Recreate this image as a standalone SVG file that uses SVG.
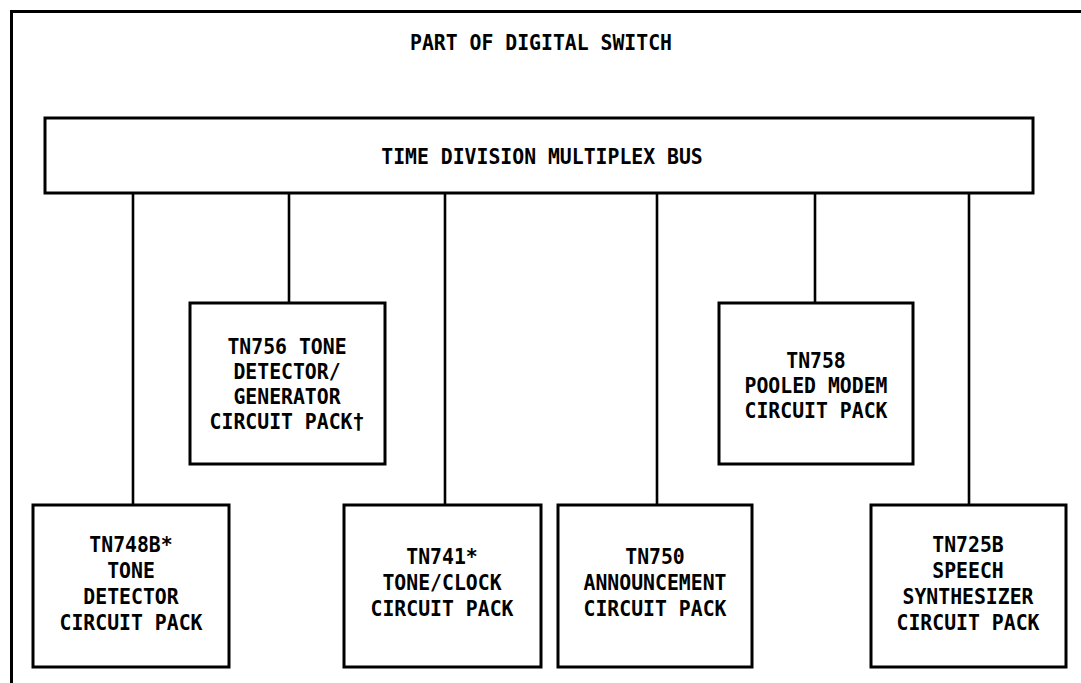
<svg xmlns="http://www.w3.org/2000/svg" width="1081" height="683" viewBox="0 0 1081 683">
<style>
.box{fill:#fff;stroke:#000;stroke-width:3}
.frame{fill:none;stroke:#000;stroke-width:3}
.conn{stroke:#000;stroke-width:2.6;fill:none}
text{font-family:"DejaVu Sans Mono","Liberation Mono",monospace;font-weight:bold;font-size:22px;fill:#000;text-anchor:middle}
</style>
<rect width="1081" height="683" fill="#fff"/>
<path class="frame" d="M11.5,683 V11.5 H1081"/>
<g id="title" transform="translate(541,0) scale(0.9,1)">
<text x="0" y="50">PART OF DIGITAL SWITCH</text>
</g>
<g id="connectors">
<line class="conn" x1="133" y1="193" x2="133" y2="505"/>
<line class="conn" x1="289" y1="193" x2="289" y2="303"/>
<line class="conn" x1="445" y1="193" x2="445" y2="505"/>
<line class="conn" x1="657" y1="193" x2="657" y2="505"/>
<line class="conn" x1="815" y1="193" x2="815" y2="303"/>
<line class="conn" x1="969" y1="193" x2="969" y2="505"/>
</g>
<g id="bus">
<rect class="box" x="45" y="118" width="988" height="75"/>
<g transform="translate(542,0) scale(0.9,1)">
<text x="0" y="164">TIME DIVISION MULTIPLEX BUS</text>
</g>
</g>
<g id="tn756">
<rect class="box" x="190" y="303" width="195" height="161"/>
<g transform="translate(287,0) scale(0.9,1)">
<text x="0" y="354">TN756 TONE</text>
<text x="0" y="379">DETECTOR/</text>
<text x="0" y="404">GENERATOR</text>
<text x="0" y="429">CIRCUIT PACK†</text>
</g>
</g>
<g id="tn758">
<rect class="box" x="719" y="303" width="194" height="161"/>
<g transform="translate(816,0) scale(0.9,1)">
<text x="0" y="368">TN758</text>
<text x="0" y="393">POOLED MODEM</text>
<text x="0" y="418">CIRCUIT PACK</text>
</g>
</g>
<g id="tn748b">
<rect class="box" x="33" y="505" width="196" height="162"/>
<g transform="translate(131,0) scale(0.9,1)">
<text x="0" y="552">TN748B*</text>
<text x="0" y="578">TONE</text>
<text x="0" y="604">DETECTOR</text>
<text x="0" y="630">CIRCUIT PACK</text>
</g>
</g>
<g id="tn741">
<rect class="box" x="344" y="505" width="197" height="162"/>
<g transform="translate(442,0) scale(0.9,1)">
<text x="0" y="564">TN741*</text>
<text x="0" y="590">TONE/CLOCK</text>
<text x="0" y="616">CIRCUIT PACK</text>
</g>
</g>
<g id="tn750">
<rect class="box" x="558" y="505" width="194" height="162"/>
<g transform="translate(655,0) scale(0.9,1)">
<text x="0" y="564">TN750</text>
<text x="0" y="590">ANNOUNCEMENT</text>
<text x="0" y="616">CIRCUIT PACK</text>
</g>
</g>
<g id="tn725b">
<rect class="box" x="871" y="505" width="195" height="162"/>
<g transform="translate(968,0) scale(0.9,1)">
<text x="0" y="552">TN725B</text>
<text x="0" y="578">SPEECH</text>
<text x="0" y="604">SYNTHESIZER</text>
<text x="0" y="630">CIRCUIT PACK</text>
</g>
</g>
</svg>
